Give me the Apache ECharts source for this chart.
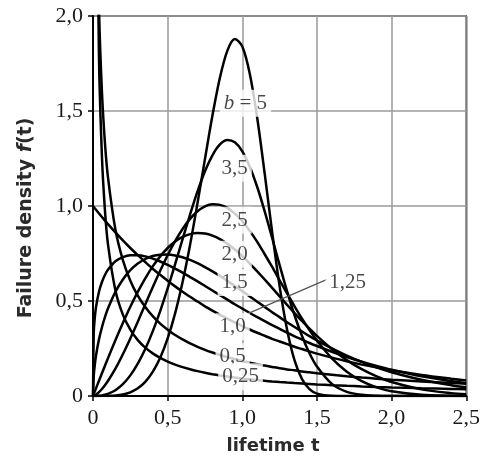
<!DOCTYPE html>
<html>
<head>
<meta charset="utf-8">
<script src="https://cdn.jsdelivr.net/npm/echarts@6/dist/echarts.min.js"></script>
<style>
  html, body { margin: 0; padding: 0; background: #fff; }
  #chart { width: 483px; height: 462px; }
</style>
</head>
<body>
<div id="chart"></div>
<script>
// lifetime t sample points (shared by all curves)
var T = [0, 0.005, 0.01, 0.02, 0.04, 0.06, 0.08, 0.1, 0.15, 0.2, 0.25, 0.3, 0.35, 0.4, 0.45, 0.5, 0.55, 0.6, 0.65, 0.7, 0.75, 0.8, 0.85, 0.9, 0.95, 1.0, 1.05, 1.1, 1.15, 1.2, 1.25, 1.3, 1.35, 1.4, 1.45, 1.5, 1.6, 1.7, 1.8, 1.9, 2.0, 2.2, 2.4, 2.5];

// failure density values, one array per shape b
var b025 = [null, 10.2, 5.76, 3.227, 1.787, 1.257, 0.977, 0.801, 0.557, 0.428, 0.349, 0.294, 0.2545, 0.2244, 0.2006, 0.1813, 0.1654, 0.1521, 0.1407, 0.1309, 0.1223, 0.1148, 0.1081, 0.1022, 0.0968, 0.092, 0.0876, 0.0836, 0.0799, 0.0766, 0.0735, 0.0706, 0.0679, 0.0655, 0.0632, 0.061, 0.0571, 0.0536, 0.0505, 0.0478, 0.0453, 0.0409, 0.0373, 0.0358];
var b05 = [null, 6.59, 4.524, 3.069, 2.047, 1.598, 1.332, 1.153, 0.876, 0.715, 0.607, 0.528, 0.468, 0.420, 0.381, 0.349, 0.321, 0.298, 0.277, 0.259, 0.243, 0.229, 0.216, 0.204, 0.194, 0.184, 0.175, 0.167, 0.160, 0.153, 0.146, 0.140, 0.135, 0.129, 0.125, 0.120, 0.112, 0.104, 0.0974, 0.0914, 0.086, 0.0765, 0.0685, 0.065];
var b10 = [1.0, 0.995, 0.990, 0.980, 0.961, 0.942, 0.923, 0.905, 0.861, 0.819, 0.779, 0.741, 0.705, 0.670, 0.638, 0.607, 0.577, 0.549, 0.522, 0.497, 0.472, 0.449, 0.427, 0.407, 0.387, 0.368, 0.350, 0.333, 0.317, 0.301, 0.287, 0.273, 0.259, 0.247, 0.235, 0.223, 0.202, 0.183, 0.165, 0.150, 0.135, 0.111, 0.091, 0.082];
var b125 = [0, 0.332, 0.394, 0.467, 0.549, 0.600, 0.637, 0.664, 0.709, 0.731, 0.741, 0.741, 0.735, 0.723, 0.708, 0.690, 0.670, 0.649, 0.626, 0.603, 0.579, 0.555, 0.531, 0.507, 0.483, 0.460, 0.437, 0.415, 0.394, 0.373, 0.353, 0.333, 0.314, 0.297, 0.279, 0.263, 0.233, 0.205, 0.180, 0.158, 0.138, 0.104, 0.0784, 0.0678];
var b15 = [0, 0.106, 0.150, 0.212, 0.298, 0.362, 0.415, 0.460, 0.548, 0.613, 0.662, 0.697, 0.721, 0.737, 0.744, 0.745, 0.740, 0.730, 0.716, 0.699, 0.678, 0.656, 0.632, 0.606, 0.579, 0.552, 0.524, 0.496, 0.469, 0.441, 0.415, 0.388, 0.363, 0.339, 0.315, 0.293, 0.251, 0.213, 0.180, 0.151, 0.125, 0.0852, 0.0565, 0.0455];
var b20 = [0, 0.010, 0.020, 0.040, 0.0799, 0.1196, 0.159, 0.198, 0.293, 0.384, 0.470, 0.548, 0.619, 0.682, 0.735, 0.779, 0.813, 0.837, 0.852, 0.858, 0.855, 0.844, 0.826, 0.801, 0.771, 0.736, 0.697, 0.656, 0.613, 0.569, 0.524, 0.480, 0.436, 0.395, 0.354, 0.316, 0.247, 0.189, 0.141, 0.103, 0.0733, 0.0348, 0.0151, 0.0097];
var b25 = [0, 0.0009, 0.0025, 0.0071, 0.020, 0.0367, 0.0565, 0.0788, 0.144, 0.220, 0.303, 0.391, 0.482, 0.572, 0.659, 0.741, 0.815, 0.879, 0.932, 0.972, 0.998, 1.009, 1.006, 0.990, 0.960, 0.920, 0.869, 0.811, 0.746, 0.679, 0.609, 0.540, 0.472, 0.407, 0.347, 0.292, 0.198, 0.128, 0.0782, 0.0452, 0.0247, 0.0062, 0.0012, 0.0005];
var b35 = [0, 0, 0, 0.0002, 0.0011, 0.0031, 0.0063, 0.0111, 0.0305, 0.0624, 0.1085, 0.170, 0.247, 0.340, 0.447, 0.566, 0.694, 0.826, 0.955, 1.077, 1.183, 1.267, 1.324, 1.347, 1.335, 1.288, 1.207, 1.100, 0.972, 0.832, 0.689, 0.551, 0.425, 0.316, 0.225, 0.155, 0.0638, 0.0218, 0.0061, 0.0013, 0.0002, 0, 0, 0];
var b50 = [0, 0, 0, 0, 0, 0, 0.0002, 0.0005, 0.0025, 0.008, 0.0195, 0.0404, 0.0746, 0.1267, 0.201, 0.303, 0.435, 0.600, 0.795, 1.015, 1.248, 1.476, 1.675, 1.818, 1.879, 1.839, 1.696, 1.463, 1.170, 0.862, 0.577, 0.349, 0.1875, 0.0887, 0.0364, 0.0127, 0.0009, 0, 0, 0, 0, 0, 0, 0];

var curveSeries = [b025, b05, b10, b125, b15, b20, b25, b35, b50];

// tick labels
var xTickLabels = ['0', '0,5', '1,0', '1,5', '2,0', '2,5'];
var yTickLabels = ['0', '0,5', '1,0', '1,5', '2,0'];

// curve labels (text and data position)
var labelTexts = ['{i|b} = 5', '3,5', '2,5', '2,0', '1,5', '1,25', '1,0', '0,5', '0,25'];
var labelT = [1.021, 0.949, 0.949, 0.949, 0.949, 1.706, 0.935, 0.935, 0.988];
var labelF = [1.541, 1.199, 0.925, 0.746, 0.598, 0.598, 0.364, 0.206, 0.101];

// leader line from label "1,25" to its curve
var leaderT = [1.041, 1.568];
var leaderF = [0.435, 0.614];

var chart = echarts.init(document.getElementById('chart'), null, { renderer: 'canvas' });

var series = curveSeries.map(function (vals) {
  return {
    type: 'line',
    data: T.map(function (t, i) { return [t, vals[i]]; }),
    smooth: 0.3,
    showSymbol: false,
    symbol: 'none',
    clip: true,
    z: 2,
    lineStyle: { color: '#000', width: 2.5 },
    silent: true,
    animation: false
  };
});

series.push({
  type: 'line',
  data: leaderT.map(function (t, i) { return [t, leaderF[i]]; }),
  symbol: 'none',
  z: 3,
  lineStyle: { color: '#555', width: 1.2 },
  silent: true,
  animation: false
});

series.push({
  type: 'scatter',
  symbolSize: 0,
  z: 5,
  silent: true,
  animation: false,
  data: labelTexts.map(function (s, i) { return { value: [labelT[i], labelF[i]], name: s }; }),
  label: {
    show: true,
    position: 'inside',
    formatter: function (p) { return p.name; },
    fontFamily: 'Liberation Serif',
    fontSize: 21,
    color: '#1a1a1a',
    backgroundColor: '#fff',
    padding: [3, 4],
    lineHeight: 21,
    rich: {
      i: { fontFamily: 'Liberation Serif', fontStyle: 'italic', fontSize: 21, color: '#1a1a1a', lineHeight: 21 }
    }
  }
});

var option = {
  backgroundColor: '#fff',
  animation: false,
  grid: {
    left: 93, right: 11, top: 16, bottom: 66,
    show: true, borderColor: '#333', borderWidth: 1.5, backgroundColor: 'transparent'
  },
  xAxis: {
    type: 'value', min: 0, max: 2.5, interval: 0.5,
    axisLine: { show: true, onZero: false, lineStyle: { color: '#000', width: 2 } },
    axisTick: { show: true, length: 5, lineStyle: { color: '#000', width: 1.5 } },
    axisLabel: {
      margin: 11, fontFamily: 'Liberation Serif', fontSize: 22, color: '#1a1a1a',
      formatter: function (v) { return xTickLabels[Math.round(v / 0.5)]; }
    },
    splitLine: { show: true, lineStyle: { color: '#9a9a9a', width: 1.5 } }
  },
  yAxis: {
    type: 'value', min: 0, max: 2, interval: 0.5,
    axisLine: { show: true, onZero: false, lineStyle: { color: '#000', width: 2 } },
    axisTick: { show: true, length: 5, lineStyle: { color: '#000', width: 1.5 } },
    axisLabel: {
      margin: 10, fontFamily: 'Liberation Serif', fontSize: 22, color: '#1a1a1a',
      formatter: function (v) { return yTickLabels[Math.round(v / 0.5)]; }
    },
    splitLine: { show: true, lineStyle: { color: '#9a9a9a', width: 1.5 } }
  },
  graphic: [
    {
      type: 'text', x: 26, y: 218, rotation: Math.PI / 2, z: 10,
      style: {
        text: 'Failure density {i|f}(t)',
        fontFamily: 'DejaVu Sans', fontWeight: 'bold', fontSize: 19, fill: '#2a2a2a',
        align: 'center', verticalAlign: 'middle',
        rich: { i: { fontFamily: 'DejaVu Sans', fontWeight: 'bold', fontStyle: 'italic', fontSize: 19, fill: '#2a2a2a' } }
      }
    },
    {
      type: 'text', x: 273, y: 446, z: 10,
      style: {
        text: 'lifetime t',
        fontFamily: 'DejaVu Sans', fontWeight: 'bold', fontSize: 18, fill: '#2a2a2a',
        align: 'center', verticalAlign: 'middle'
      }
    }
  ],
  series: series
};

chart.setOption(option);
</script>
</body>
</html>
